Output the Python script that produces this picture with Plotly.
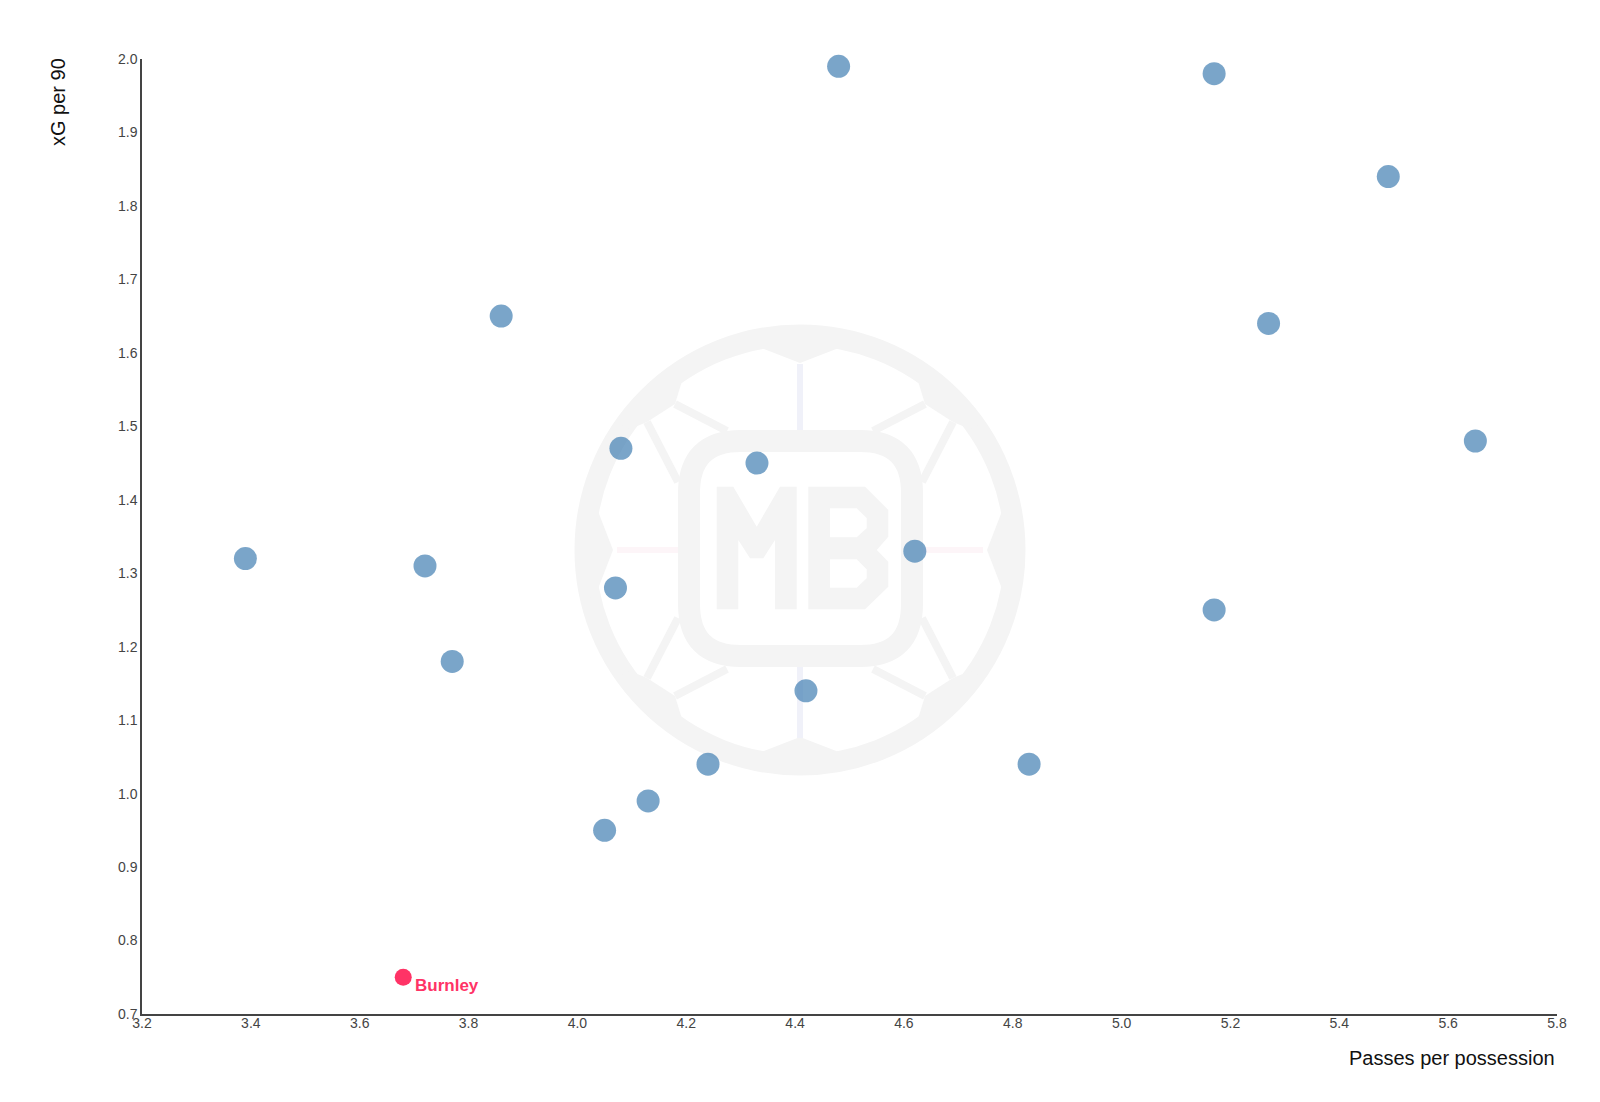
"""xG per 90 vs passes per possession scatter."""

import plotly.graph_objects as go

passes_per_possession = [
    4.48, 5.17, 5.49, 3.86, 5.27, 5.65, 4.08, 4.33, 3.39, 4.62,
    3.72, 4.07, 5.17, 3.77, 4.42, 4.24, 4.83, 4.13, 4.05,
]
xg_per_90 = [
    1.99, 1.98, 1.84, 1.65, 1.64, 1.48, 1.47, 1.45, 1.32, 1.33,
    1.31, 1.28, 1.25, 1.18, 1.14, 1.04, 1.04, 0.99, 0.95,
]
highlight_team = ["Burnley"]
highlight_x = [3.68]
highlight_y = [0.75]

x_ticks = [3.2, 3.4, 3.6, 3.8, 4.0, 4.2, 4.4, 4.6, 4.8, 5.0, 5.2, 5.4, 5.6, 5.8]
y_ticks = [0.7, 0.8, 0.9, 1.0, 1.1, 1.2, 1.3, 1.4, 1.5, 1.6, 1.7, 1.8, 1.9, 2.0]

W, H = 1600, 1102
PAGE_OFF = 8  # default body margin of the html page
L, R, T, B = 142, 1557, 59, 1014  # plot area in page pixels
WM = "#f4f4f4"


def fx(px):
    return (px - L) / (R - L)


def fy(py):
    return (B - py) / (B - T)


def path(points, close=True):
    s = "M " + " L ".join(f"{fx(x):.5f},{fy(y):.5f}" for x, y in points)
    return s + (" Z" if close else "")


# watermark (football + MB logo), drawn in page pixels then mapped to paper
cx, cy = 800, 550
shapes = []
shapes.append(dict(type="circle", xref="paper", yref="paper", layer="below",
                   x0=fx(cx - 215), x1=fx(cx + 215), y0=fy(cy + 215), y1=fy(cy - 215),
                   line=dict(color=WM, width=21)))

# patches on the ring
top = [(-49, -212), (-44, -204), (0, -187), (44, -204), (49, -212)]
diag = [(-124, -179), (-118, -169), (-125, -146), (-153, -128), (-170, -121), (-179, -125)]
for rot in range(4):
    pts = []
    for dx, dy in top:
        for _ in range(rot):
            dx, dy = -dy, dx
        pts.append((cx + dx, cy + dy))
    shapes.append(dict(type="path", xref="paper", yref="paper", layer="below",
                       path=path(pts), fillcolor=WM, line=dict(width=0)))
for sx, sy in [(1, 1), (-1, 1), (1, -1), (-1, -1)]:
    pts = [(cx + sx * dx, cy + sy * dy) for dx, dy in diag]
    shapes.append(dict(type="path", xref="paper", yref="paper", layer="below",
                       path=path(pts), fillcolor=WM, line=dict(width=0)))
    for a, b in [((-125, -146), (-73, -119)), ((-153, -128), (-122, -68))]:
        p = [(cx + sx * a[0], cy + sy * a[1]), (cx + sx * b[0], cy + sy * b[1])]
        shapes.append(dict(type="path", xref="paper", yref="paper", layer="below",
                           path=path(p, close=False), line=dict(color=WM, width=8)))

# spokes
for p, col in [([(cx, 364), (cx, 432)], "#f0f1f9"), ([(cx, 666), (cx, 738)], "#f0f1f9"),
               ([(617, cy), (680, cy)], "#fdf5f8"), ([(921, cy), (983, cy)], "#fdf5f8")]:
    shapes.append(dict(type="path", xref="paper", yref="paper", layer="below",
                       path=path(p, close=False), line=dict(color=col, width=6)))

# rounded square
x0, x1, y0, y1, r = 689, 912, 441, 656, 52
rs = (f"M {fx(x0 + r):.5f},{fy(y0):.5f} L {fx(x1 - r):.5f},{fy(y0):.5f} "
      f"Q {fx(x1):.5f},{fy(y0):.5f} {fx(x1):.5f},{fy(y0 + r):.5f} "
      f"L {fx(x1):.5f},{fy(y1 - r):.5f} Q {fx(x1):.5f},{fy(y1):.5f} {fx(x1 - r):.5f},{fy(y1):.5f} "
      f"L {fx(x0 + r):.5f},{fy(y1):.5f} Q {fx(x0):.5f},{fy(y1):.5f} {fx(x0):.5f},{fy(y1 - r):.5f} "
      f"L {fx(x0):.5f},{fy(y0 + r):.5f} Q {fx(x0):.5f},{fy(y0):.5f} {fx(x0 + r):.5f},{fy(y0):.5f} Z")
shapes.append(dict(type="path", xref="paper", yref="paper", layer="below",
                   path=rs, line=dict(color=WM, width=22)))

# letters M and B
m_pts = [(716.7, 486.7), (733.3, 486.7), (756.7, 526.7), (780, 486.7), (796.7, 486.7),
         (796.7, 609.3), (775, 609.3), (775, 540), (763.3, 558.3), (750, 558.3),
         (738.3, 540), (738.3, 609.3), (716.7, 609.3)]
b_out = [(808.3, 486.7), (865, 486.7), (888.3, 510), (888.3, 536.7), (876.7, 550),
         (888.3, 561.7), (888.3, 586.7), (865, 609.3), (808.3, 609.3)]
b_h1 = [(830, 508.3), (856.7, 508.3), (866.7, 518), (866.7, 528.3), (856.7, 537.3), (830, 537.3)]
b_h2 = [(830, 559.3), (856.7, 559.3), (866.7, 569.3), (866.7, 578.3), (856.7, 587.7), (830, 587.7)]
shapes.append(dict(type="path", xref="paper", yref="paper", layer="below",
                   path=path(m_pts), fillcolor=WM, line=dict(width=0)))
shapes.append(dict(type="path", xref="paper", yref="paper", layer="below", fillrule="evenodd",
                   path=path(b_out) + " " + path(b_h1) + " " + path(b_h2),
                   fillcolor=WM, line=dict(width=0)))

fig = go.Figure()
fig.add_trace(go.Scatter(
    x=passes_per_possession, y=xg_per_90, mode="markers", cliponaxis=False,
    marker=dict(size=23, color="rgba(70,130,180,0.72)", line=dict(width=0)),
    hoverinfo="x+y", showlegend=False,
))
fig.add_trace(go.Scatter(
    x=highlight_x, y=highlight_y, mode="markers", cliponaxis=False,
    marker=dict(size=17, color="#ff3366"), showlegend=False,
))

FONT = "Liberation Sans, Arial"
axis_common = dict(
    showgrid=False, zeroline=False, showline=True, linecolor="#444", linewidth=1.5,
    ticks="", tickfont=dict(family=FONT, size=14, color="#444"),
)
annotations = [
    dict(text="xG per 90", xref="paper", yref="paper", x=fx(58), y=fy(102),
         xanchor="center", yanchor="middle", textangle=-90, showarrow=False,
         font=dict(family=FONT, size=20, color="#111")),
    dict(text="Passes per possession", xref="paper", yref="paper", x=1, y=fy(1058),
         xanchor="right", yanchor="middle", showarrow=False,
         font=dict(family=FONT, size=20, color="#111")),
]
for name, hx, hy in zip(highlight_team, highlight_x, highlight_y):
    annotations.append(dict(
        text=f"<b>{name}</b>", x=hx, y=hy, xref="x", yref="y", showarrow=False,
        xanchor="left", yanchor="middle", xshift=10, yshift=-8,
        font=dict(family=FONT, size=17, color="#ff3366"),
    ))

fig.update_layout(
    width=W, height=H,
    margin=dict(l=L - PAGE_OFF, r=W - (R - PAGE_OFF), t=T - PAGE_OFF, b=H - (B - PAGE_OFF)),
    plot_bgcolor="white", paper_bgcolor="white",
    xaxis=dict(range=[3.2, 5.8], tickvals=x_ticks, ticktext=[f"{v:.1f}" for v in x_ticks],
               ticklabelstandoff=-5, **axis_common),
    yaxis=dict(range=[0.7, 2.0], tickvals=y_ticks, ticktext=[f"{v:.1f}" for v in y_ticks],
               ticklabelstandoff=0, **axis_common),
    shapes=shapes,
    annotations=annotations,
)

fig.write_html("out.html")
